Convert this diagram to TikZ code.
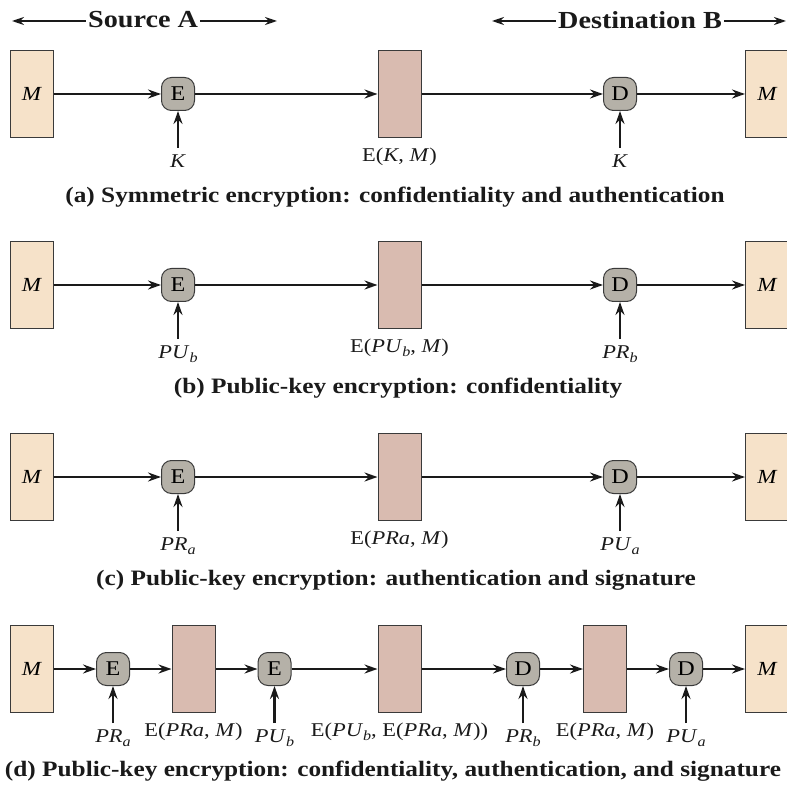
\documentclass[tikz,border=0pt]{standalone}
\usepackage{fontspec}
\setmainfont[FakeStretch=1.15]{Liberation Serif}
\usetikzlibrary{arrows.meta}
\definecolor{msgfill}{HTML}{F6E2C9}
\definecolor{ctfill}{HTML}{D9BBB0}
\definecolor{opfill}{HTML}{B5B1A8}
\definecolor{edgecol}{HTML}{3A3A3A}
\definecolor{inkcol}{HTML}{1A1A1A}
\newcommand{\sbs}[1]{\raisebox{-0.2em}{\fontsize{14}{14}\selectfont\itshape #1}}
\begin{document}
\begin{tikzpicture}[x=1pt,y=-1pt,
 msg/.style={draw=edgecol, line width=1pt, fill=msgfill, minimum width=43pt, minimum height=87pt, inner sep=0pt, font=\fontsize{20}{20}\selectfont\itshape},
 ct/.style={draw=edgecol, line width=1pt, fill=ctfill, minimum width=43pt, minimum height=87pt, inner sep=0pt},
 op/.style={draw=edgecol, line width=1pt, fill=opfill, rounded corners=10pt, minimum size=33pt, inner sep=0pt, font=\fontsize{21}{21}\selectfont},
 flow/.style={draw=inkcol, line width=2.3pt, -{Stealth[length=13pt,width=9pt]}},
 hflow/.style={draw=inkcol, line width=1.8pt, -{Stealth[length=12pt,width=8pt]}},
 lbl/.style={font=\fontsize{19.5}{19.5}\selectfont, inner sep=2pt, text=inkcol},
 boxlbl/.style={lbl, anchor=north, yshift=-8pt},
 keylbl/.style={lbl, anchor=north, yshift=-5pt},
 captext/.style={font=\fontsize{22}{22}\selectfont\bfseries, text=inkcol},
 hdr/.style={font=\fontsize{24.5}{24.5}\selectfont\bfseries, text=inkcol, inner sep=2pt}
]
\useasboundingbox (0,0) rectangle (787,786);

% header
\node[hdr] (src) at (143,20) {Source A};
\coordinate (srcL) at (12,21);
\coordinate (srcR) at (277,21);
\draw[hflow] (src.west |- srcL) -- (srcL);
\draw[hflow] (src.east |- srcR) -- (srcR);
\node[hdr] (dst) at (640,20) {Destination B};
\coordinate (dstL) at (492,21);
\coordinate (dstR) at (786,21);
\draw[hflow] (dst.west |- dstL) -- (dstL);
\draw[hflow] (dst.east |- dstR) -- (dstR);

% ---------- row a ----------
\node[msg] (Ma) at (31.5,94) {M};
\node[op] (Ea) at (178,94) {E};
\node[ct] (Ca) at (399.5,94) {};
\node[op] (Da) at (620,94) {D};
\node[msg] (Mar) at (767,94) {M};
\draw[flow] (Ma.east) -- (Ea.west);
\draw[flow] (Ea.east) -- (Ca.west);
\draw[flow] (Ca.east) -- (Da.west);
\draw[flow] (Da.east) -- (Mar.west);
\coordinate (kEa) at (178,148);
\coordinate (kDa) at (620,148);
\draw[flow] (kEa) -- (Ea.south);
\draw[flow] (kDa) -- (Da.south);
\node[keylbl] (lEa) at (kEa) {\textit{K}};
\node[keylbl] (lDa) at (kDa) {\textit{K}};
\node[boxlbl] (lCa) at (Ca.south) {E(\textit{K}, \textit{M})};
\node[captext] (capa) at (395,197) {(a) Symmetric encryption: confidentiality and authentication};

% ---------- row b ----------
\node[msg] (Mb) at (31.5,285) {M};
\node[op] (Eb) at (178,285) {E};
\node[ct] (Cb) at (399.5,285) {};
\node[op] (Db) at (620,285) {D};
\node[msg] (Mbr) at (767,285) {M};
\draw[flow] (Mb.east) -- (Eb.west);
\draw[flow] (Eb.east) -- (Cb.west);
\draw[flow] (Cb.east) -- (Db.west);
\draw[flow] (Db.east) -- (Mbr.west);
\coordinate (kEb) at (178,339);
\coordinate (kDb) at (620,339);
\draw[flow] (kEb) -- (Eb.south);
\draw[flow] (kDb) -- (Db.south);
\node[keylbl] (lEb) at (kEb) {\textit{PU}\sbs{b}};
\node[keylbl] (lDb) at (kDb) {\textit{PR}\sbs{b}};
\node[boxlbl] (lCb) at (Cb.south) {E(\textit{PU}\sbs{b}, \textit{M})};
\node[captext] (capb) at (398,388) {(b) Public-key encryption: confidentiality};

% ---------- row c ----------
\node[msg] (Mc) at (31.5,477) {M};
\node[op] (Ec) at (178,477) {E};
\node[ct] (Cc) at (399.5,477) {};
\node[op] (Dc) at (620,477) {D};
\node[msg] (Mcr) at (767,477) {M};
\draw[flow] (Mc.east) -- (Ec.west);
\draw[flow] (Ec.east) -- (Cc.west);
\draw[flow] (Cc.east) -- (Dc.west);
\draw[flow] (Dc.east) -- (Mcr.west);
\coordinate (kEc) at (178,531);
\coordinate (kDc) at (620,531);
\draw[flow] (kEc) -- (Ec.south);
\draw[flow] (kDc) -- (Dc.south);
\node[keylbl] (lEc) at (kEc) {\textit{PR}\sbs{a}};
\node[keylbl] (lDc) at (kDc) {\textit{PU}\sbs{a}};
\node[boxlbl] (lCc) at (Cc.south) {E(\textit{PRa}, \textit{M})};
\node[captext] (capc) at (396,580) {(c) Public-key encryption: authentication and signature};

% ---------- row d ----------
\node[msg] (Md) at (31.5,669) {M};
\node[op] (E1d) at (113,669) {E};
\node[ct] (C1d) at (193.5,669) {};
\node[op] (E2d) at (274.5,669) {E};
\node[ct] (C2d) at (399.5,669) {};
\node[op] (D1d) at (523,669) {D};
\node[ct] (C3d) at (605,669) {};
\node[op] (D2d) at (686,669) {D};
\node[msg] (Mdr) at (767,669) {M};
\draw[flow] (Md.east) -- (E1d.west);
\draw[flow] (E1d.east) -- (C1d.west);
\draw[flow] (C1d.east) -- (E2d.west);
\draw[flow] (E2d.east) -- (C2d.west);
\draw[flow] (C2d.east) -- (D1d.west);
\draw[flow] (D1d.east) -- (C3d.west);
\draw[flow] (C3d.east) -- (D2d.west);
\draw[flow] (D2d.east) -- (Mdr.west);
\coordinate (kE1d) at (113,723);
\coordinate (kE2d) at (274.5,723);
\coordinate (kD1d) at (523,723);
\coordinate (kD2d) at (686,723);
\draw[flow] (kE1d) -- (E1d.south);
\draw[flow] (kE2d) -- (E2d.south);
\draw[flow] (kD1d) -- (D1d.south);
\draw[flow] (kD2d) -- (D2d.south);
\node[keylbl] (lE1d) at (kE1d) {\textit{PR}\sbs{a}};
\node[keylbl] (lE2d) at (kE2d) {\textit{PU}\sbs{b}};
\node[keylbl] (lD1d) at (kD1d) {\textit{PR}\sbs{b}};
\node[keylbl] (lD2d) at (kD2d) {\textit{PU}\sbs{a}};
\node[boxlbl] (lC1d) at (C1d.south) {E(\textit{PRa}, \textit{M})};
\node[boxlbl] (lC2d) at (C2d.south) {E(\textit{PU}\sbs{b}, E(\textit{PRa}, \textit{M}))};
\node[boxlbl] (lC3d) at (C3d.south) {E(\textit{PRa}, \textit{M})};
\node[captext] (capd) at (393,771) {(d) Public-key encryption: confidentiality, authentication, and signature};
\end{tikzpicture}
\end{document}
